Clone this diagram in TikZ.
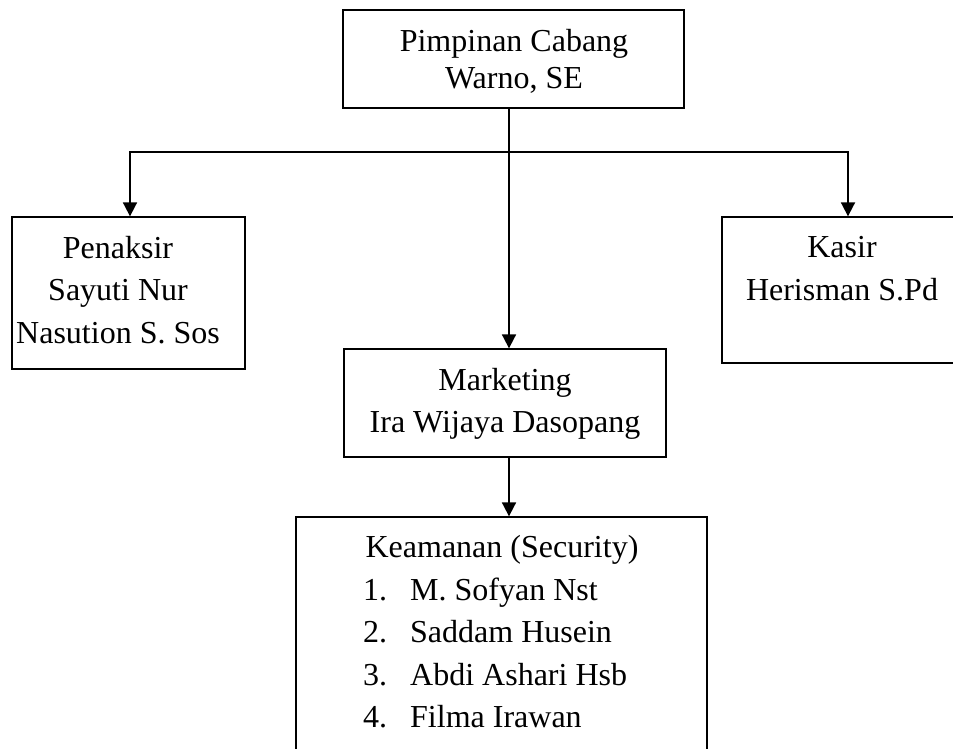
\documentclass[tikz,border=0pt]{standalone}
\usepackage{fontspec}
\setmainfont{Liberation Serif}
\usetikzlibrary{arrows.meta}
\begin{document}
\begin{tikzpicture}[x=1pt,y=-1pt,
  box/.style={draw,line width=1.3pt,rectangle,inner sep=0pt},
  conn/.style={line width=1.8pt},
  arr/.style={conn,-{Triangle[width=14pt,length=14pt]}},
  txt/.style={anchor=base,inner sep=0pt,font=\fontsize{32}{38}\selectfont},
  ltxt/.style={anchor=base west,inner sep=0pt,font=\fontsize{32}{38}\selectfont}]
\useasboundingbox (0,0) rectangle (953,749);
% boxes
\node[box,minimum width=341pt,minimum height=98pt] (top) at (513.5,59) {};
\node[box,minimum width=233pt,minimum height=152pt] (pen) at (128.5,293) {};
\node[box,minimum width=248pt,minimum height=146pt] (kas) at (846,290) {};
\node[box,minimum width=322pt,minimum height=108pt] (mk) at (505,403) {};
\node[box,minimum width=411pt,minimum height=253pt] (sec) at (501.5,643.5) {};
% texts
\node[txt] (t1) at (514,52) {Pimpinan Cabang};
\node[txt] (t2) at (514,89) {Warno, SE};
\node[txt] (p1) at (118,258) {Penaksir};
\node[txt] (p2) at (118,300) {Sayuti Nur};
\node[txt] (p3) at (118,343) {Nasution S. Sos};
\node[txt] (k1) at (842,257) {Kasir};
\node[txt] (k2) at (842,300) {Herisman S.Pd};
\node[txt] (m1) at (505,390) {Marketing};
\node[txt] (m2) at (505,432) {Ira Wijaya Dasopang};
\node[txt] (s0) at (502,557) {Keamanan (Security)};
\node[ltxt] (n1) at (363,600) {1.};
\node[ltxt] (n2) at (363,642) {2.};
\node[ltxt] (n3) at (363,685) {3.};
\node[ltxt] (n4) at (363,727) {4.};
\node[ltxt] (s1) at (410,600) {M. Sofyan Nst};
\node[ltxt] (s2) at (410,642) {Saddam Husein};
\node[ltxt] (s3) at (410,685) {Abdi Ashari Hsb};
\node[ltxt] (s4) at (410,727) {Filma Irawan};
% connectors
\coordinate (trunk) at (509,152);
\coordinate (lj) at (130,152);
\coordinate (rj) at (848,152);
\draw[conn] (top.south -| trunk) -- (trunk);
\draw[arr] (trunk) -- (mk.north -| trunk);
\draw[arr] (trunk) -- (lj) -- (pen.north -| lj);
\draw[arr] (trunk) -- (rj) -- (kas.north -| rj);
\draw[arr] (mk.south -| trunk) -- (sec.north -| trunk);
\end{tikzpicture}
\end{document}
